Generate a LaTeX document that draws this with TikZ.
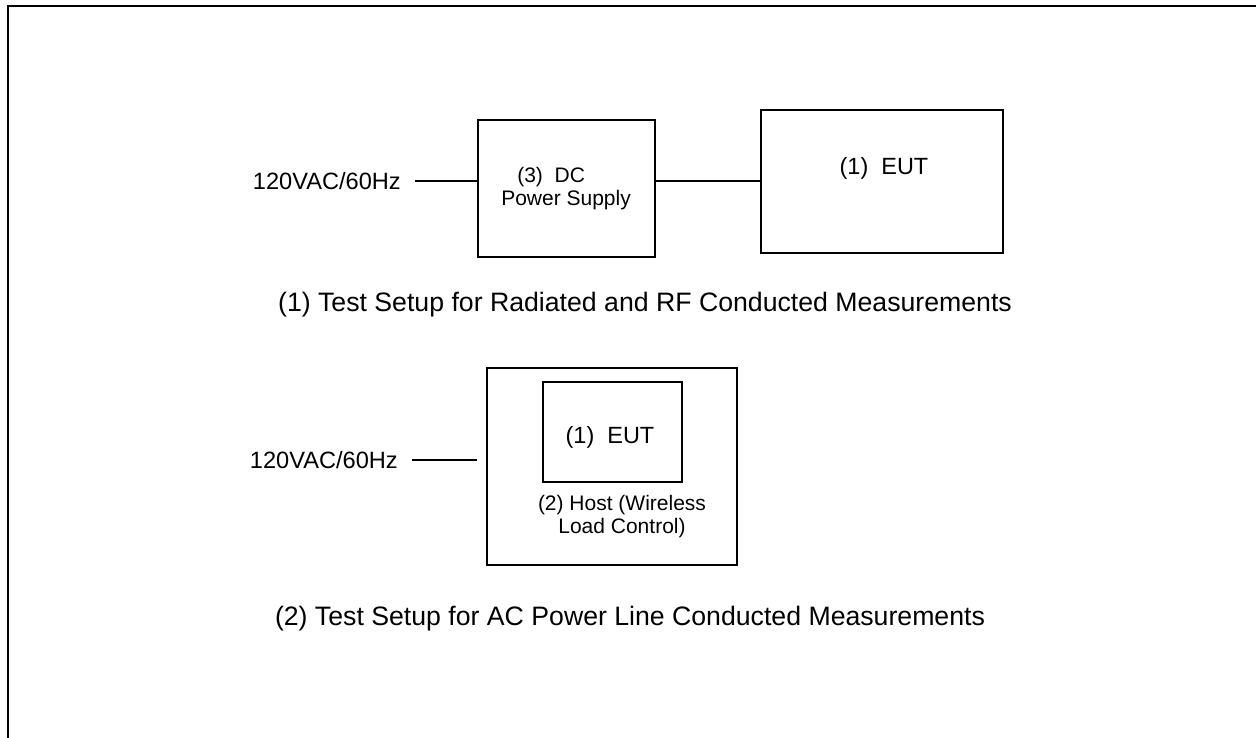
\documentclass[tikz,border=0pt]{standalone}
\usepackage{fontspec}
\setmainfont{Liberation Sans}
\newdimen\pxu \pxu=0.75pt
\begin{document}
\begin{tikzpicture}[x=0.75pt,y=-0.75pt,
  boxframe/.style={draw,line width=1pt,rectangle,inner sep=0pt},
  wire/.style={line width=0.8pt},
  boxtext/.style={inner sep=0pt,font=\fontsize{15.75}{18}\selectfont},
  euttext/.style={inner sep=0pt,font=\fontsize{17.6}{20}\selectfont},
  labeltext/.style={inner ysep=0pt,inner xsep=14\pxu,font=\fontsize{17.7}{20}\selectfont},
  captiontext/.style={inner sep=0pt,font=\fontsize{20}{24}\selectfont}]
\useasboundingbox (0,0) rectangle (1256,738);
% outer frame
\coordinate (fbl) at (8,740);
\coordinate (ftl) at (8,6);
\coordinate (ftr) at (1258,6);
\draw[line width=2.2pt] (fbl) -- (ftl) -- (ftr);

% setup 1
\node[boxframe,minimum width=177\pxu,minimum height=137\pxu] (dc) at (566.5,188.5) {};
\node[boxframe,minimum width=242\pxu,minimum height=143\pxu] (eut1) at (882,181.5) {};
\node[boxtext,anchor=base west] (dct1) at (517,182) {(3)\ \ DC};
\node[boxtext,anchor=base west] (dct2) at (501,205) {Power Supply};
\node[euttext,anchor=base] (eutt1) at (884,175) {(1)\ \ EUT};
\node[labeltext,anchor=east] (lab1) at (415,181) {120VAC/60Hz};
\draw[wire] (lab1.east) -- (lab1.east -| dc.west);
\draw[wire] (lab1.east -| dc.east) -- (lab1.east -| eut1.west);
\node[captiontext,anchor=base] (cap1) at (645,311) {(1) Test Setup for Radiated and RF Conducted Measurements};

% setup 2
\node[boxframe,minimum width=250\pxu,minimum height=197\pxu] (host) at (612,466.5) {};
\node[boxframe,minimum width=139\pxu,minimum height=100\pxu] (eut2) at (612.5,432) {};
\node[euttext,anchor=base] (eutt2) at (610,443) {(1)\ \ EUT};
\node[boxtext,anchor=base] (hostt1) at (622,510) {(2) Host (Wireless};
\node[boxtext,anchor=base] (hostt2) at (622,533) {Load Control)};
\node[labeltext,anchor=east] (lab2) at (412,460) {120VAC/60Hz};
\coordinate (lab2end) at (477,460);
\draw[wire] (lab2.east) -- (lab2end);
\node[captiontext,anchor=base] (cap2) at (630,625) {(2) Test Setup for AC Power Line Conducted Measurements};
\end{tikzpicture}
\end{document}
